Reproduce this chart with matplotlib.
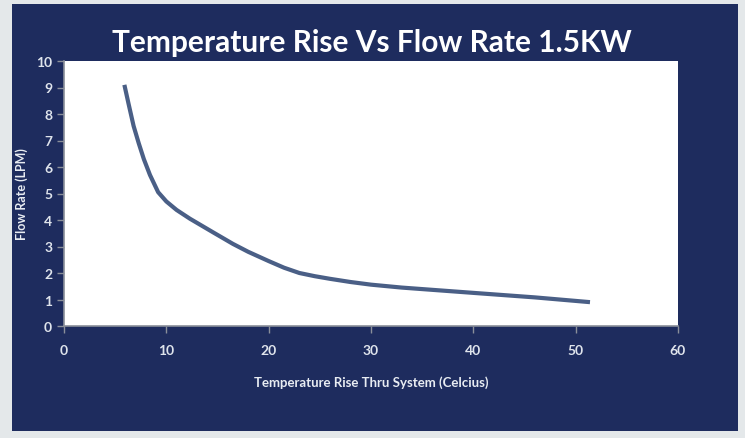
import matplotlib
matplotlib.use("Agg")
import matplotlib.pyplot as plt
from matplotlib.patches import Rectangle

temp_rise = [5.9, 6.3, 6.8, 7.3, 7.8, 8.4, 9.2, 10.0, 11.0, 12.3, 14.5, 16.5, 18.0, 20.0, 21.5, 23.0, 24.5, 26.0, 28.0, 30.0, 33.0, 40.0, 46.0, 51.4]
flow_rate = [9.1, 8.4, 7.55, 6.9, 6.3, 5.7, 5.05, 4.7, 4.38, 4.05, 3.55, 3.1, 2.8, 2.45, 2.2, 2.0, 1.88, 1.78, 1.66, 1.56, 1.45, 1.25, 1.08, 0.9]
x_ticks = [0, 10, 20, 30, 40, 50, 60]
y_ticks = [0, 1, 2, 3, 4, 5, 6, 7, 8, 9, 10]
title = "Temperature Rise Vs Flow Rate 1.5KW"
x_label = "Temperature Rise Thru System (Celcius)"
y_label = "Flow Rate (LPM)"

W, H = 745, 439
fig = plt.figure(figsize=(W / 100, H / 100), dpi=100)
fig.patch.set_facecolor("#e4e8ea")
navy = "#1e2c5e"
fig.add_artist(Rectangle((12 / W, 1 - 432 / H), (738 - 12) / W, (432 - 5) / H,
                         transform=fig.transFigure, facecolor=navy, edgecolor="none", zorder=0))

ax = fig.add_axes([64 / W, 1 - 327 / H, (678 - 64) / W, (327 - 62) / H])
ax.set_facecolor("white")
ax.plot(temp_rise, flow_rate, color="#4a5f86", lw=3, solid_capstyle="butt", solid_joinstyle="round")
ax.set_xlim(0, 60)
ax.set_ylim(0, 10)
ax.set_xticks(x_ticks)
ax.set_yticks(y_ticks)
for s in ["top", "right"]:
    ax.spines[s].set_visible(False)
for s in ["left", "bottom"]:
    ax.spines[s].set_color("#8a8f9a")
    ax.spines[s].set_linewidth(1.2)
ax.tick_params(colors="#8a8f9a", length=5, width=1, labelcolor="#dfe4ec", labelsize=10)
for lab in ax.get_xticklabels() + ax.get_yticklabels():
    lab.set_fontfamily("Lato")
    lab.set_fontweight("bold")
ax.tick_params(axis="x", pad=8)
ax.set_xlabel(x_label, color="#e8ecf2", fontsize=9.5, fontweight="bold", family="Lato", labelpad=14)
ax.set_ylabel(y_label, color="#e8ecf2", fontsize=9, fontweight="bold", family="Lato", labelpad=6)

fig.text(372 / W, 1 - 43 / H, title, ha="center", va="center", color="white",
         fontsize=21.5, fontweight="bold", family="Lato")

fig.savefig("out.png", dpi=100, facecolor=fig.get_facecolor())
